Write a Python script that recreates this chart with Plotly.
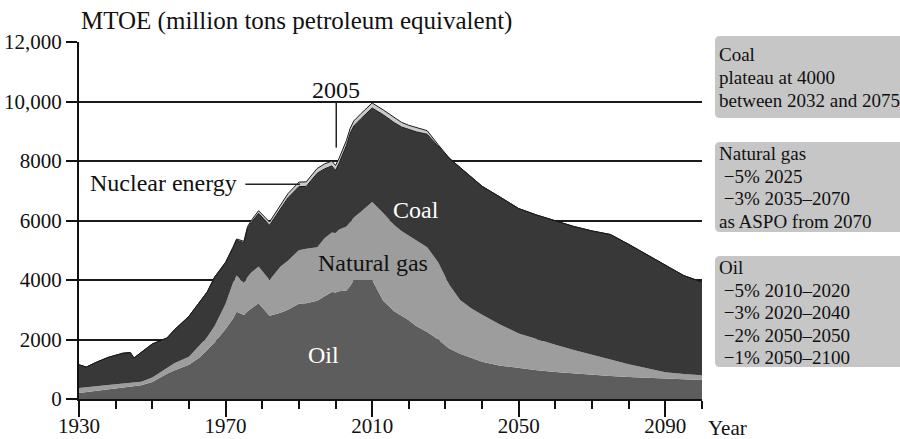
import plotly.graph_objects as go

# ---------------- data ----------------
years = [1930, 1932, 1935, 1938, 1942, 1944, 1945, 1947, 1950, 1954, 1956, 1960, 1963, 1965,
         1967, 1970, 1972, 1973, 1975, 1976, 1977, 1979, 1982, 1985, 1987, 1990, 1992, 1995,
         1997, 1999, 2000, 2001, 2003, 2004, 2005, 2007, 2010, 2013, 2016, 2018, 2020, 2022,
         2025, 2028, 2031, 2034, 2037, 2040, 2045, 2050, 2055, 2060, 2065, 2070, 2075, 2080,
         2085, 2090, 2095, 2100]

oil = [200, 230, 270, 320, 370, 400, 410, 460, 570, 850, 960, 1150, 1400, 1650,
       1900, 2350, 2700, 2930, 2820, 2950, 3050, 3220, 2800, 2900, 3000, 3200, 3220, 3300,
       3450, 3600, 3580, 3620, 3650, 3800, 4000, 4000, 4000, 3300, 2950, 2800, 2650, 2450,
       2250, 2000, 1700, 1520, 1380, 1250, 1120, 1040, 970, 910, 860, 800, 770, 740,
       720, 700, 670, 640]

natural_gas = [170, 160, 160, 150, 150, 140, 140, 120, 150, 200, 240, 270, 400, 430,
               550, 850, 1200, 1220, 1080, 1150, 1200, 1230, 1200, 1550, 1650, 1800, 1830, 1800,
               1950, 2000, 2000, 2080, 2150, 2150, 2100, 2300, 2620, 2950, 2900, 2850, 2850, 2880,
               2850, 2600, 2150, 1810, 1670, 1580, 1380, 1160, 1030, 910, 790, 700, 560, 430,
               310, 200, 170, 160]

coal = [780, 685, 820, 930, 1020, 1020, 830, 1000, 1130, 1000, 1120, 1360, 1450, 1520,
        1640, 1380, 1170, 1190, 1350, 1640, 1680, 1790, 1840, 1920, 2110, 2140, 2095, 2490,
        2335, 2235, 2105, 2235, 2735, 2985, 3080, 3130, 3160, 3305, 3440, 3495, 3550, 3650,
        3800, 3910, 4250, 4450, 4400, 4320, 4280, 4200, 4180, 4160, 4150, 4150, 4200, 4030,
        3820, 3600, 3310, 3130]

nuclear = [0, 0, 0, 0, 0, 0, 0, 0, 0, 0, 0, 0, 0, 0,
           10, 20, 30, 40, 50, 60, 70, 90, 110, 130, 140, 150, 155, 160,
           165, 165, 165, 165, 165, 165, 170, 170, 170, 165, 160, 155, 150, 140,
           120, 40, 0, 0, 0, 0, 0, 0, 0, 0, 0, 0, 0, 0,
           0, 0, 0, 0]

x_major_ticks = [1930, 1970, 2010, 2050, 2090]
y_ticks = [0, 2000, 4000, 6000, 8000, 10000, 12000]
y_tick_labels = ["0", "2000", "4000", "6000", "8000", "10,000", "12,000"]

title_text = "MTOE (million tons petroleum equivalent)"
box_coal = ["Coal", "plateau at 4000", "between 2032 and 2075"]
box_gas = ["Natural gas", "\u00a0\u22125% 2025", "\u00a0\u22123% 2035\u20132070", "as ASPO from 2070"]
box_oil = ["Oil", "\u00a0\u22125% 2010\u20132020", "\u00a0\u22123% 2020\u20132040",
           "\u00a0\u22122% 2050\u20132050", "\u00a0\u22121% 2050\u20132100"]

# ---------------- styling ----------------
FONT = "Liberation Serif"
INK = "#111111"
W, H = 900, 439
L, R, T, B = 79, 198, 42, 40
PW, PH = W - L - R, H - T - B


def px_x(px):
    return (px - L) / PW


def px_y(py):
    return (H - B - py) / PH


fig = go.Figure()
fill_colors = {"Oil": "#5d5d5d", "Natural gas": "#9d9d9d", "Coal": "#383838", "Nuclear": "#c9c9c9"}
series = [("Oil", oil, 0, "#5d5d5d"), ("Natural gas", natural_gas, 0, "#9d9d9d"),
          ("Coal", coal, 1, "#1a1a1a"), ("Nuclear", nuclear, 1, "#1a1a1a")]
for name, vals, lw, lc in series:
    fig.add_trace(go.Scatter(
        x=years, y=vals, name=name, mode="lines", stackgroup="one",
        fillcolor=fill_colors[name], line=dict(width=lw, color=lc),
        hoverinfo="skip", showlegend=False))


def rounded_box(x0, y0, x1, y1, r=5):
    ax0, ax1 = px_x(x0), px_x(x1)
    ay0, ay1 = px_y(y1), px_y(y0)
    rx, ry = r / PW, r / PH
    return (f"M{ax0 + rx},{ay0} L{ax1 - rx},{ay0} Q{ax1},{ay0} {ax1},{ay0 + ry} "
            f"L{ax1},{ay1 - ry} Q{ax1},{ay1} {ax1 - rx},{ay1} L{ax0 + rx},{ay1} "
            f"Q{ax0},{ay1} {ax0},{ay1 - ry} L{ax0},{ay0 + ry} Q{ax0},{ay0} {ax0 + rx},{ay0} Z")


shapes = []
for (y0, y1) in [(36, 118), (142, 232), (256, 367)]:
    shapes.append(dict(type="path", xref="paper", yref="paper",
                       path=rounded_box(715, y0, 906, y1), fillcolor="#c6c6c6",
                       line=dict(width=0), layer="below"))

shapes.append(dict(type="line", xref="x", yref="y", x0=2000.2, x1=2000.2, y0=10000, y1=8450,
                   line=dict(color="#222222", width=1.5), layer="above"))
shapes.append(dict(type="line", xref="x", yref="y", x0=1975.4, x1=1990.3, y0=7220, y1=7220,
                   line=dict(color="#222222", width=1.5), layer="above"))

annotations = []
annotations.append(dict(text=title_text, xref="paper", yref="paper", x=0, y=px_y(21),
                        xanchor="left", yanchor="middle", showarrow=False,
                        font=dict(family=FONT, size=25, color=INK)))
annotations.append(dict(text="Year", xref="paper", yref="paper", x=px_x(706), y=px_y(428),
                        xanchor="left", yanchor="middle", showarrow=False,
                        font=dict(family=FONT, size=21, color=INK)))

box_lines = [(box_coal, [54, 77, 100]), (box_gas, [153, 176, 198, 221]),
             (box_oil, [267, 290, 312, 335, 357])]
for lines, ys in box_lines:
    for txt, yy in zip(lines, ys):
        annotations.append(dict(text=txt, xref="paper", yref="paper", x=px_x(717), y=px_y(yy),
                                xanchor="left", yanchor="middle", showarrow=False,
                                font=dict(family=FONT, size=19, color=INK)))

chart_labels = [("2005", 2000.0, 10400, INK), ("Nuclear energy", 1953.1, 7260, INK),
                ("Coal", 2022.0, 6350, "#ffffff"), ("Natural gas", 2010.1, 4570, INK),
                ("Oil", 1996.6, 1480, "#ffffff")]
for txt, xx, yy, col in chart_labels:
    annotations.append(dict(text=txt, xref="x", yref="y", x=xx, y=yy, xanchor="center",
                            yanchor="middle", showarrow=False,
                            font=dict(family=FONT, size=24, color=col)))

fig.update_layout(
    width=W, height=H, margin=dict(l=L, r=R, t=T, b=B, pad=0, autoexpand=False),
    paper_bgcolor="#ffffff", plot_bgcolor="#ffffff",
    shapes=shapes, annotations=annotations, showlegend=False,
    font=dict(family=FONT, color=INK),
)
fig.update_xaxes(range=[1930, 2100], tickmode="array", tickvals=x_major_ticks,
                 ticks="outside", ticklen=16, tickwidth=1.5, tickcolor=INK,
                 showline=True, linecolor=INK, linewidth=2, showgrid=False, zeroline=False,
                 automargin=False, ticklabelstandoff=-9,
                 tickfont=dict(family=FONT, size=21, color=INK),
                 minor=dict(tickmode="linear", tick0=1930, dtick=10, ticks="outside",
                            ticklen=8, tickwidth=1.5, tickcolor=INK, showgrid=False))
fig.update_yaxes(range=[0, 12000], tickmode="array", tickvals=y_ticks, ticktext=y_tick_labels,
                 ticks="outside", ticklen=11, tickwidth=1.5, tickcolor=INK,
                 showline=True, linecolor=INK, linewidth=2, showgrid=True,
                 gridcolor="#1a1a1a", gridwidth=1.5, zeroline=False, automargin=False,
                 tickfont=dict(family=FONT, size=21, color=INK))

fig.write_html("out.html", config={"displayModeBar": False},
               post_script="document.body.style.margin='0';document.body.style.overflow='hidden';")
